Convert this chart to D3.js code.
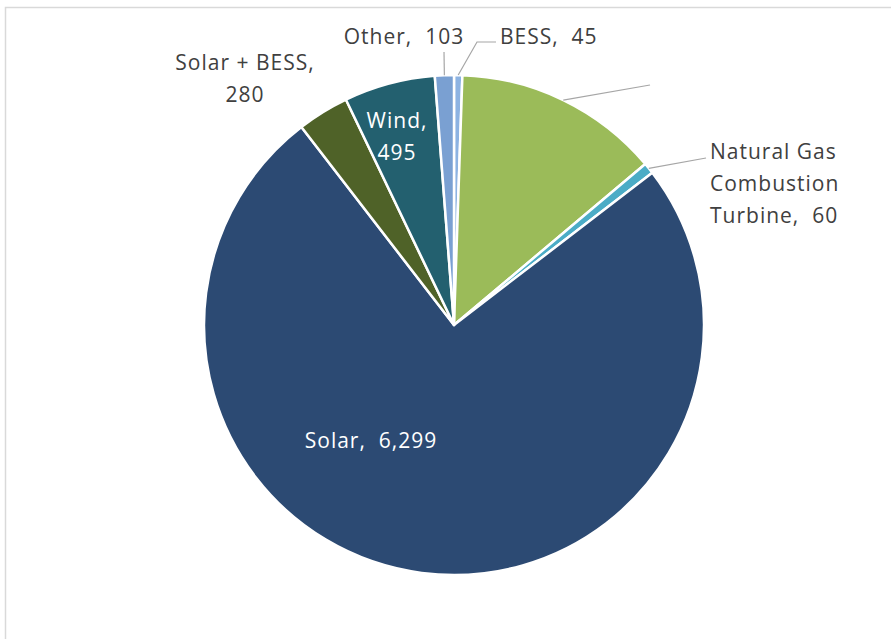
<!DOCTYPE html>
<html lang="en">
<head>
    <meta charset="UTF-8">
    <title></title>
    <style>
        body { margin: 0; background: #fff; }
    </style>
</head>
<body>
</body>
<script src="https://cdn.jsdelivr.net/npm/d3@7"></script>
<script>
    // slices in drawing order, clockwise from 12 o'clock
    var categories = ['BESS', 'Unlabeled', 'Natural Gas Combustion Turbine', 'Solar', 'Solar + BESS', 'Wind', 'Other'];
    var values = [45, 1120, 60, 6299, 280, 495, 103];
    var colors = ['#8db3e2', '#9bbb59', '#4bacc6', '#2c4a73', '#4f6228', '#23606f', '#7aa0d2'];

    // label text lines, one entry per slice (empty = no label shown)
    var labelLines = [
        ['BESS,  45'],
        [],
        ['Natural Gas', 'Combustion', 'Turbine,  60'],
        ['Solar,  6,299'],
        ['Solar + BESS,', '280'],
        ['Wind,', '495'],
        ['Other,  103']
    ];

    var width = 891, height = 639;
    var cx = 454, cy = 325, radius = 250;

    var svg = d3.select('body')
            .append('svg')
            .attr('width', width)
            .attr('height', height);

    // chart frame
    svg.append('rect')
            .attr('x', 5.5).attr('y', 7.5)
            .attr('width', width).attr('height', height)
            .attr('fill', 'none')
            .attr('stroke', '#d9d9d9')
            .attr('stroke-width', 1.5);

    var data = categories.map(function (c, i) {
        return {name: c, value: values[i], color: colors[i], lines: labelLines[i]};
    });

    var pie = d3.pie()
            .sort(null)
            .value(function (d) { return d.value; });

    var arc = d3.arc().innerRadius(0).outerRadius(radius);

    var g = svg.append('g').attr('transform', 'translate(' + cx + ',' + cy + ')');

    var arcs = pie(data);

    g.selectAll('path')
            .data(arcs)
            .enter()
            .append('path')
            .attr('d', arc)
            .attr('fill', function (d) { return d.data.color; })
            .attr('stroke', '#fff')
            .attr('stroke-width', 2.5)
            .attr('stroke-linejoin', 'round');

    // point on the rim at the middle of a slice
    function rim(d) {
        var a = (d.startAngle + d.endAngle) / 2;
        return [radius * Math.sin(a), -radius * Math.cos(a)];
    }

    // label placement (relative to pie centre): text anchor point, anchor, colour, leader elbows
    var labelPos = {
        'BESS': {x: 46, y: -281, anchor: 'start', fill: '#404040', leader: [[23, -283], [42, -283]]},
        'Unlabeled': {leader: [[196, -240]]},
        'Natural Gas Combustion Turbine': {x: 256, y: -166, anchor: 'start', fill: '#404040', leader: [[252, -167]]},
        'Solar': {x: -83, y: 123, anchor: 'middle', fill: '#fff'},
        'Solar + BESS': {x: -209, y: -255, anchor: 'middle', fill: '#404040'},
        'Wind': {x: -57, y: -197, anchor: 'middle', fill: '#fff'},
        'Other': {x: -50, y: -281, anchor: 'middle', fill: '#404040', leader: [[-10, -273]]}
    };

    var lineH = 32;

    arcs.forEach(function (d) {
        var p = labelPos[d.data.name];
        if (p.leader) {
            var pts = [rim(d)].concat(p.leader);
            g.append('path')
                    .attr('d', d3.line()(pts))
                    .attr('fill', 'none')
                    .attr('stroke', '#a6a6a6')
                    .attr('stroke-width', 1.2);
        }
        if (!d.data.lines.length) return;
        var t = g.append('text')
                .attr('x', p.x)
                .attr('y', p.y)
                .attr('text-anchor', p.anchor)
                .attr('fill', p.fill)
                .attr('font-family', '"Open Sans", sans-serif')
                .attr('font-size', '21px')
                .attr('letter-spacing', '1px')
                .style('white-space', 'pre');
        d.data.lines.forEach(function (l, i) {
            t.append('tspan')
                    .attr('x', p.x)
                    .attr('dy', i === 0 ? 0 : lineH)
                    .text(l);
        });
    });
</script>
</html>
